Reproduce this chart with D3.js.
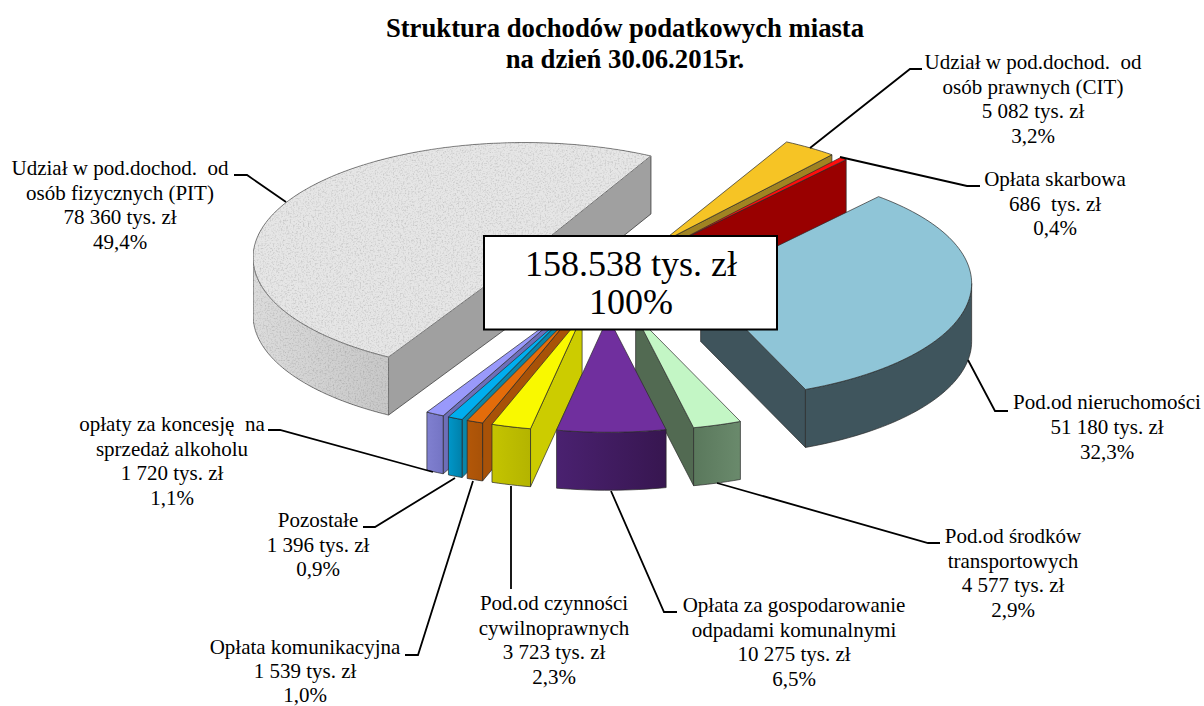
<!DOCTYPE html>
<html><head><meta charset="utf-8">
<script src="https://cdnjs.cloudflare.com/ajax/libs/d3/7.8.5/d3.min.js"></script>
<style>html,body{margin:0;padding:0;background:#fff}svg{display:block}
text{font-family:"Liberation Serif",serif;fill:#000;white-space:pre}</style>
</head><body><script>
const categories=["PIT","CIT","Skarbowa","Nieruchomosci","Srodki","Odpady","Czynnosci","Komunikacyjna","Pozostale","Alkohol"];
const values=[78360,5082,686,51180,4577,10275,3723,1539,1396,1720];
const labelLines=[
 ["Udział w pod.dochod.  od","osób fizycznych (PIT)","78 360 tys. zł","49,4%"],
 ["Udział w pod.dochod.  od","osób prawnych (CIT)","5 082 tys. zł","3,2%"],
 ["Opłata skarbowa","686  tys. zł","0,4%"],
 ["Pod.od nieruchomości","51 180 tys. zł","32,3%"],
 ["Pod.od środków","transportowych","4 577 tys. zł","2,9%"],
 ["Opłata za gospodarowanie","odpadami komunalnymi","10 275 tys. zł","6,5%"],
 ["Pod.od czynności","cywilnoprawnych","3 723 tys. zł","2,3%"],
 ["Opłata komunikacyjna","1 539 tys. zł","1,0%"],
 ["Pozostałe","1 396 tys. zł","0,9%"],
 ["opłaty za koncesję  na","sprzedaż alkoholu","1 720 tys. zł","1,1%"]];
const titleLines=["Struktura dochodów podatkowych miasta","na dzień 30.06.2015r."];
const centerLines=["158.538 tys. zł","100%"];

// palette, per category
const topColors=["#e6e6e6","#f6c425","#ff0d0d","#8fc5d7","#c3f6c5","#702f9e","#f9f900","#e46c0a","#00aeef","#9999fb"];
const radialWall=["#a0a0a0","#a08322","#990000","#3f545c","#526a52","#3f1a5e","#cccc00","#a85208","#0a86a8","#6e6eb8"];
const outerWallA=["#dcdcdc","#a08322","#990000","#3f555d","#5a785c","#4a2170","#c4c400","#b35708","#0096c8","#8080d0"];
const outerWallB=["#c8c8c8","#a08322","#990000","#3f555d","#6a8a6c","#371650","#b4b400","#a85208","#0080aa","#7474c4"];
const drawOrder=[0,1,2,3,9,8,7,6,4,5];

// layout of annotations
const labelCx=[120,1033,1055,1107,1013,794,554,305,318,172];
const labelBase=[175,69,186,409,543,612,610,654,527,431];
const labelStep=[24.5,24.5,24.5,25,24.5,24.5,24.5,23.8,24.5,24.5], labelSize=21;
const leaders=[
 [[234,175],[247,175],[286,202]],
 [[810,148],[910,69],[922,69]],
 [[840,157],[967,186],[980,186]],
 [[968,360],[995,411],[1008,411]],
 [[717,483],[928,543],[940,543]],
 [[611,491],[664,612],[677,612]],
 [[511,486],[511,589]],
 [[473,481],[418,655],[405,655]],
 [[455,478],[375,527],[363,527]],
 [[433,472],[280,430],[268,430]]];

const W=1204,H=706,cx=607,cy=277,depth=58,explode=0.35;
const xs=d3.scaleLinear([0,1],[0,271]), ys=d3.scaleLinear([0,1],[0,115]);
const rad=d=>d*Math.PI/180;
const svg=d3.select("body").append("svg").attr("width",W).attr("height",H);
const defs=svg.append("defs");
const stone=defs.append("filter").attr("id","stone").attr("x",0).attr("y",0).attr("width",1).attr("height",1);
stone.append("feTurbulence").attr("type","fractalNoise").attr("baseFrequency",0.6).attr("numOctaves",3).attr("seed",4).attr("result","n");
stone.append("feColorMatrix").attr("in","n").attr("type","matrix")
 .attr("values","0.7 0 0 0 0.62  0.7 0 0 0 0.62  0.7 0 0 0 0.62  0 0 0 0 1").attr("result","g");
stone.append("feComposite").attr("in","g").attr("in2","SourceAlpha").attr("operator","in").attr("result","c");
stone.append("feBlend").attr("in","SourceGraphic").attr("in2","c").attr("mode","multiply");

categories.forEach((c,i)=>{
 const g=defs.append("linearGradient").attr("id","w"+i);
 g.append("stop").attr("offset",0).attr("stop-color",outerWallA[i]);
 g.append("stop").attr("offset",1).attr("stop-color",outerWallB[i]);
});

const arcs=d3.pie().sort(null).value(d=>d).startAngle(rad(210)).endAngle(rad(570))(values);
const line=d3.line();
function point(d,th,r,dz){
 const m=(d.startAngle+d.endAngle)/2;
 return [cx+xs(explode*Math.sin(m)+r*Math.sin(th)), cy-ys(explode*Math.cos(m)+r*Math.cos(th))+dz];
}
function arcPts(d,a0,a1,dz){
 const n=Math.max(2,Math.ceil((a1-a0)/rad(1.5)));
 return d3.range(n+1).map(k=>point(d,a0+(a1-a0)*k/n,1,dz));
}
const stroke="#2a2a2a",sw=0.7;
const pie=svg.append("g");
drawOrder.forEach(i=>{
 const d=arcs[i], g=pie.append("g").attr("class","slice");
 const edge=th=>[point(d,th,0,0),point(d,th,1,0),point(d,th,1,depth),point(d,th,0,depth)];
 // radial walls that face the viewer
 if(Math.sin(d.endAngle)>0) g.append("path").attr("d",line(edge(d.endAngle))+"Z")
   .attr("fill",radialWall[i]).attr("stroke",stroke).attr("stroke-width",sw);
 if(Math.sin(d.startAngle)<0) g.append("path").attr("d",line(edge(d.startAngle))+"Z")
   .attr("fill",radialWall[i]).attr("stroke",stroke).attr("stroke-width",sw);
 // outer wall: front half of the rim (angles run past a full turn)
 [0,360].forEach(turn=>{
  const lo=Math.max(d.startAngle,rad(90+turn)), hi=Math.min(d.endAngle,rad(270+turn));
  if(hi>lo){
   const pts=arcPts(d,lo,hi,0).concat(arcPts(d,lo,hi,depth).reverse());
   const p=g.append("path").attr("d",line(pts)+"Z").attr("fill","url(#w"+i+")").attr("stroke",stroke).attr("stroke-width",sw);
   if(i===0) p.attr("filter","url(#stone)");
  }
 });
 // top face
 const top=[point(d,0,0,0)].concat(arcPts(d,d.startAngle,d.endAngle,0));
 const t=g.append("path").attr("d",line(top)+"Z").attr("fill",topColors[i]).attr("stroke",stroke).attr("stroke-width",sw);
 if(i===0) t.attr("filter","url(#stone)");
});

svg.append("g").selectAll("path").data(leaders).join("path")
 .attr("d",d=>line(d)).attr("fill","none").attr("stroke","#000").attr("stroke-width",1.8);

categories.forEach((c,i)=>{
 const t=svg.append("text").attr("text-anchor","middle").attr("font-size",labelSize);
 labelLines[i].forEach((s,k)=>t.append("tspan").attr("x",labelCx[i]).attr("y",labelBase[i]+k*labelStep[i]).text(s));
});

const title=svg.append("text").attr("text-anchor","middle").attr("font-size",26.7).attr("font-weight","bold");
titleLines.forEach((s,k)=>title.append("tspan").attr("x",625).attr("y",37+k*31).text(s));

svg.append("rect").attr("x",484).attr("y",236).attr("width",293).attr("height",93.5)
 .attr("fill","#fff").attr("stroke","#000").attr("stroke-width",2);
const ct=svg.append("text").attr("text-anchor","middle").attr("font-size",36);
centerLines.forEach((s,k)=>ct.append("tspan").attr("x",631).attr("y",276+k*38).text(s));
</script></body></html>
